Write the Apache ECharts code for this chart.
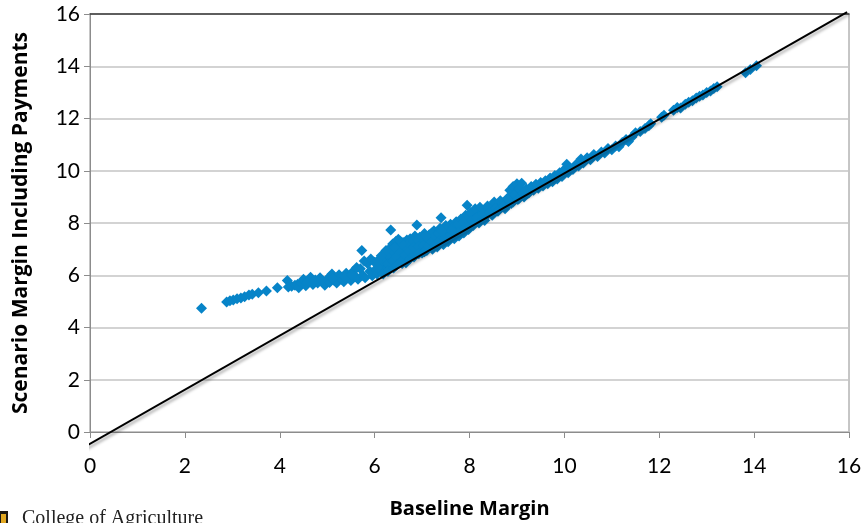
<!DOCTYPE html>
<html>
<head>
<meta charset="utf-8">
<script src="https://cdn.jsdelivr.net/npm/echarts@6/dist/echarts.min.js"></script>
<style>
  html, body { margin: 0; padding: 0; background: #fff; }
  #chart { width: 865px; height: 523px; }
</style>
</head>
<body>
<div id="chart"></div>
<script>
// axis ticks
var xTicks = [0, 2, 4, 6, 8, 10, 12, 14, 16];
var yTicks = [0, 2, 4, 6, 8, 10, 12, 14, 16];

// farms: [baseline margin, scenario margin incl. payments]
var leftTail = [
	[2.35,4.74],[2.88,4.98],[2.95,5.02],[3.02,5.05],[3.10,5.10],[3.18,5.13],[3.26,5.18],[3.35,5.24],
	[3.42,5.27],[3.55,5.33],[3.72,5.40],[3.95,5.52],[4.16,5.80],[4.18,5.55],[4.25,5.58],[4.32,5.62],
	[4.38,5.66],[4.40,5.52]
];
var lowBand = [
	[4.45,5.70],[4.50,5.85],[4.55,5.60],[4.60,5.78],[4.65,5.92],[4.70,5.65],[4.75,5.82],[4.80,5.70],
	[4.85,5.90],[4.90,5.75],[4.95,5.62],[5.00,5.85],[5.05,5.72],[5.10,6.05],[5.15,5.80],[5.20,5.70],
	[5.25,6.02],[5.30,5.85],[5.35,5.75],[5.40,6.08],[5.45,5.90],[5.50,5.80],[5.55,6.15],[5.60,5.95],
	[5.65,5.85],[5.73,6.95],[5.70,6.25],[5.75,6.00],[5.80,5.90],[5.85,6.45],[5.90,6.15],[5.95,5.98],
	[6.00,6.50],[6.02,6.22],[6.05,6.05],[5.62,6.30],[5.78,6.55],[5.92,6.62],[5.06,5.95],[5.28,5.92],
	[4.58,5.70],[4.72,5.78],[4.88,5.82],[5.12,5.88],[5.38,5.92],[5.52,6.00]
];
var midBand = [
	[6.10,6.60],[6.12,6.30],[6.15,6.12],[6.20,6.80],[6.22,6.45],[6.25,6.20],[6.30,7.00],[6.32,6.65],
	[6.35,6.30],[6.34,7.73],[6.38,7.20],[6.40,6.85],[6.42,6.45],[6.45,7.30],[6.48,6.95],[6.50,6.55],
	[6.52,7.10],[6.55,6.75],[6.58,6.45],[6.60,7.25],[6.62,6.90],[6.65,6.60],[6.68,7.35],[6.70,7.05],
	[6.72,6.72],[6.75,7.40],[6.78,7.15],[6.80,6.85],[6.85,7.50],[6.88,7.20],[6.89,7.92],[6.90,6.95],
	[6.95,7.45],[6.98,7.10],[7.00,6.85],
	[7.05,7.60],[7.08,7.25],[7.10,6.95],[7.15,7.55],[7.18,7.20],[7.22,7.00],[7.25,7.70],[7.30,7.35],
	[7.32,7.08],[7.38,7.80],[7.40,8.20],[7.42,7.45],[7.45,7.18],[7.50,7.90],[7.52,7.55],[7.55,7.28],
	[7.60,7.95],[7.65,7.60],[7.68,7.40],[7.72,8.05],[7.75,7.75],[7.78,7.50],[7.82,8.15],[7.85,7.85],
	[7.88,7.62],[7.92,8.30],[7.95,8.68],[7.95,7.95],[7.98,7.75]
];
// extra farms packed in the thick part of the cloud
var denseCore = [
	[6.08,6.35],[6.18,6.55],[6.18,6.05],[6.28,6.78],[6.28,6.42],[6.28,6.15],[6.36,6.98],[6.38,6.55],
	[6.40,6.28],[6.46,7.12],[6.46,6.70],[6.46,6.38],[6.54,7.30],[6.54,6.90],[6.56,6.52],[6.63,7.10],
	[6.64,6.78],[6.66,6.48],[6.72,7.22],[6.73,6.92],[6.74,6.62],[6.82,7.30],[6.82,7.05],[6.83,6.70],
	[6.92,7.35],[6.92,7.10],[6.93,6.82],[7.02,7.42],[7.03,7.15],[7.05,6.90],[7.12,7.40],[7.13,7.12],
	[7.20,7.62],[7.20,7.30],[7.27,7.50],[7.28,7.18],[7.35,7.60],[7.36,7.30],[7.46,7.72],[7.47,7.40],
	[7.56,7.80],[7.58,7.50],[7.66,7.85],[7.70,7.62],[7.76,7.95],[7.80,7.70],[7.87,8.05],[7.90,7.80],
	[8.00,8.20],[8.00,7.90],[8.10,8.35],[8.12,8.02],[8.25,8.45],[8.25,8.18],[8.35,8.50],[8.36,8.28],
	[8.45,8.62],[8.46,8.38],[8.58,8.70],[8.58,8.52],[8.68,8.78],[8.70,8.62],[8.78,8.80],[8.82,8.72],
	[8.90,9.05],[8.92,8.80],[9.00,9.20],[9.05,8.95],[9.15,9.22],[9.22,9.12],[6.58,7.20],[6.50,7.38],
	[6.42,7.05],[6.24,6.95],[6.14,6.75],[6.06,6.55],[7.08,7.50],[7.42,7.68],[7.62,7.70]
];
var upperBand = [
	[8.02,8.40],[8.05,8.10],[8.08,7.90],[8.12,8.55],[8.15,8.20],[8.20,8.00],[8.22,8.60],[8.28,8.35],
	[8.32,8.10],[8.38,8.65],[8.42,8.40],[8.48,8.30],[8.52,8.80],[8.55,8.55],[8.60,8.45],[8.65,8.85],
	[8.70,8.65],[8.75,8.55],[8.80,8.95],[8.85,9.25],[8.88,8.75],[8.92,9.40],[8.95,9.10],[9.00,9.50],
	[9.02,8.90],[9.05,9.30],[9.10,9.52],[9.12,9.15],[9.15,9.00],
	[9.20,9.30],[9.25,9.15],[9.30,9.40],[9.35,9.25],[9.40,9.48],[9.45,9.33],[9.50,9.55],[9.55,9.42],
	[9.60,9.62],[9.65,9.50],[9.70,9.72],[9.75,9.58],[9.80,9.82],[9.85,9.68],[9.90,9.92],[9.95,9.78],
	[10.00,10.05],[10.05,10.25],[10.08,9.92],[10.12,10.10],[10.18,10.05],[10.25,10.25],[10.30,10.18],
	[10.35,10.45],[10.40,10.30],[10.48,10.50],[10.55,10.42]
];
var highTail = [
	[10.62,10.62],[10.70,10.55],[10.78,10.72],[10.85,10.68],[10.92,10.85],[11.00,10.80],[11.08,10.95],
	[11.15,10.92],[11.22,11.08],[11.30,11.20],[11.35,11.12],[11.42,11.28],[11.50,11.45],[11.60,11.50],
	[11.70,11.62],[11.78,11.72],[11.82,11.80],
	[12.05,12.05],[12.10,12.12],[12.30,12.32],[12.38,12.42],[12.45,12.40],[12.55,12.55],[12.62,12.62],
	[12.70,12.68],[12.78,12.78],[12.85,12.85],[12.92,12.90],[13.00,13.00],[13.08,13.05],[13.15,13.15],
	[13.22,13.22],[13.82,13.75],[13.92,13.88],[14.05,14.02]
];

// reference line, runs past the plot corner in the original
var refLine = [[-0.23, -0.69], [15.96, 16.07]];

var farms = leftTail.concat(lowBand, midBand, denseCore, upperBand, highTail);

var chart = echarts.init(document.getElementById('chart'));

var tickFont = 'Lato, "Open Sans", sans-serif';
var titleFont = '"Open Sans", Lato, sans-serif';

var option = {
	animation: false,
	backgroundColor: '#fff',
	grid: {
		left: 90,
		right: 16,
		top: 14,
		bottom: 91,
		// keep the plot box exactly where it is, labels may sit outside
		outerBoundsMode: 'none',
		show: true,
		borderColor: '#8c8c8c',
		borderWidth: 1
	},
	xAxis: [
		{
			type: 'value',
			min: 0,
			max: 16,
			interval: 2,
			name: 'Baseline Margin',
			nameLocation: 'middle',
			nameGap: 67,
			nameTextStyle: { fontFamily: titleFont, fontWeight: 'bold', fontSize: 20, color: '#000' },
			axisLine: { show: true, lineStyle: { color: '#8c8c8c', width: 1 } },
			axisTick: { show: true, inside: false, length: 6, lineStyle: { color: '#8c8c8c' } },
			axisLabel: {
				margin: 24,
				fontFamily: tickFont, fontSize: 21, color: '#000',
				formatter: function (v) { return xTicks.indexOf(v) >= 0 ? String(v) : ''; }
			},
			splitLine: { show: false }
		},
		{
			// darker frame line along the top of the plot
			type: 'value',
			position: 'top',
			min: 0,
			max: 16,
			axisLine: { show: true, lineStyle: { color: '#3c3c3c', width: 1.5 } },
			axisTick: { show: false },
			axisLabel: { show: false },
			splitLine: { show: false }
		}
	],
	yAxis: {
		type: 'value',
		min: 0,
		max: 16,
		interval: 2,
		name: 'Scenario Margin Including Payments',
		nameLocation: 'middle',
		nameGap: 58,
		nameTextStyle: { fontFamily: titleFont, fontWeight: 'bold', fontSize: 21, color: '#000' },
		axisLine: { show: true, lineStyle: { color: '#8c8c8c', width: 1 } },
		axisTick: { show: true, inside: false, length: 6, lineStyle: { color: '#8c8c8c' } },
		axisLabel: {
			margin: 10,
			fontFamily: tickFont, fontSize: 21, color: '#000',
			formatter: function (v) { return yTicks.indexOf(v) >= 0 ? String(v) : ''; }
		},
		splitLine: { show: true, lineStyle: { color: '#c4c4c4', width: 1.5 } }
	},
	series: [
		{
			name: 'Farms',
			type: 'scatter',
			data: farms,
			symbol: 'diamond',
			symbolSize: 11,
			itemStyle: { color: '#0784c8', opacity: 1 },
			z: 2
		},
		{
			name: 'Reference',
			type: 'line',
			data: refLine,
			clip: false,
			symbol: 'none',
			lineStyle: {
				color: '#000',
				width: 2,
				shadowColor: 'rgba(0,0,0,0.35)',
				shadowBlur: 3,
				shadowOffsetX: 2,
				shadowOffsetY: 2
			},
			z: 3
		}
	],
	graphic: [
		{ type: 'rect', left: -2, top: 511, shape: { width: 10, height: 14 }, style: { fill: '#1e1a14' } },
		{ type: 'rect', left: 1, top: 514, shape: { width: 5, height: 10 }, style: { fill: '#e2a822' } },
		{
			type: 'text', left: 22, top: 509,
			style: { text: 'College of Agriculture', fontFamily: '"Liberation Serif", "DejaVu Serif", serif', fontSize: 20, fill: '#222' }
		}
	]
};

chart.setOption(option);
</script>
</body>
</html>
